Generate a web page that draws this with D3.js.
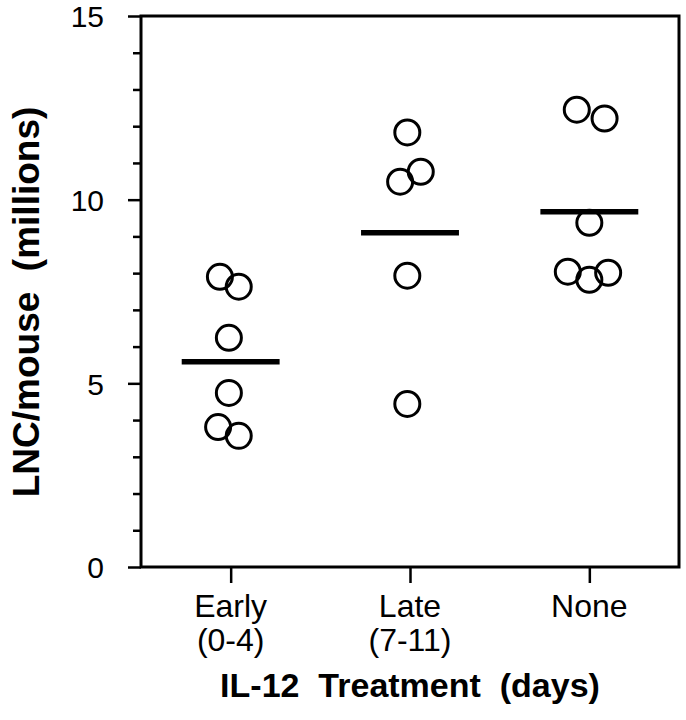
<!DOCTYPE html>
<html>
<head>
<meta charset="utf-8">
<script src="https://cdn.jsdelivr.net/npm/d3@7"></script>
<style>
  body { margin: 0; background: #fff; }
  text { font-family: "Liberation Sans", Arial, Helvetica, sans-serif; fill: #000; }
</style>
</head>
<body>
<div id="chart"></div>
<script>
'use strict';
// groups on the x axis
var categories = ['Early', 'Late', 'None'];
var subLabels = ['(0-4)', '(7-11)', ''];
// individual mice, x is category index + small offset
var earlyX = [0.44, 0.545, 0.49, 0.49, 0.43, 0.545];
var earlyY = [7.90, 7.63, 6.24, 4.74, 3.81, 3.57];
var lateX = [1.485, 1.445, 1.56, 1.485, 1.485];
var lateY = [11.83, 10.49, 10.76, 7.93, 4.44];
var noneX = [2.43, 2.585, 2.5, 2.38, 2.5, 2.605];
var noneY = [12.45, 12.21, 9.37, 8.04, 7.82, 8.01];
// group means (horizontal bars)
var means = [5.59, 9.10, 9.67];
var yTicks = [0, 5, 10, 15];

var width = 686, height = 720;
var plotL = 141, plotR = 679, plotT = 16, plotB = 567;

var svg = d3.select('#chart').append('svg')
    .attr('width', width)
    .attr('height', height);

var x = d3.scaleLinear().domain([0, 3]).range([plotL, plotR]);
var y = d3.scaleLinear().domain([0, 15]).range([plotB, plotT]);

// y axis with major + minor ticks
var yMinor = svg.append('g')
    .attr('transform', 'translate(' + plotL + ',0)')
    .call(d3.axisLeft(y).tickValues(d3.range(0, 16).filter(function (d) { return d % 5 !== 0; }))
        .tickSize(8).tickFormat(''));
var yMajor = svg.append('g')
    .attr('transform', 'translate(' + plotL + ',0)')
    .call(d3.axisLeft(y).tickValues(yTicks).tickSize(13).tickPadding(24));
[yMinor, yMajor].forEach(function (g) {
    g.select('.domain').remove();
    g.selectAll('line').attr('stroke', '#000').attr('stroke-width', 2.5);
});
yMajor.selectAll('text')
    .attr('fill', '#000')
    .style('font-size', '30px')
    .attr('dy', '0.36em');

// x axis ticks
var xAxis = svg.append('g')
    .attr('transform', 'translate(0,' + plotB + ')')
    .call(d3.axisBottom(x).tickValues([0.5, 1.5, 2.5]).tickSize(16).tickFormat(''));
xAxis.select('.domain').remove();
xAxis.selectAll('line').attr('stroke', '#000').attr('stroke-width', 2.5);

// frame
svg.append('rect')
    .attr('x', plotL).attr('y', plotT)
    .attr('width', plotR - plotL).attr('height', plotB - plotT)
    .attr('fill', 'none')
    .attr('stroke', '#000')
    .attr('stroke-width', 3);

// category labels
var labG = svg.append('g');
categories.forEach(function (c, i) {
    labG.append('text')
        .attr('x', x(i + 0.5)).attr('y', 617)
        .attr('text-anchor', 'middle')
        .style('font-size', '32px')
        .text(c);
    if (subLabels[i]) {
        labG.append('text')
            .attr('x', x(i + 0.5)).attr('y', 651)
            .attr('text-anchor', 'middle')
            .style('font-size', '32px')
            .text(subLabels[i]);
    }
});

// axis titles
svg.append('text')
    .attr('x', x(1.5)).attr('y', 697)
    .attr('text-anchor', 'middle')
    .style('font-size', '34px').style('font-weight', 'bold')
    .style('white-space', 'pre')
    .text('IL-12  Treatment  (days)');
svg.append('text')
    .attr('transform', 'translate(39,302) rotate(-90)')
    .attr('text-anchor', 'middle')
    .style('font-size', '37px').style('font-weight', 'bold')
    .style('white-space', 'pre')
    .text('LNC/mouse  (millions)');

// points
var pts = [];
[[earlyX, earlyY], [lateX, lateY], [noneX, noneY]].forEach(function (s) {
    s[0].forEach(function (v, i) { pts.push({ x: v, y: s[1][i] }); });
});
svg.append('g').selectAll('circle')
    .data(pts)
    .enter().append('circle')
    .attr('cx', function (d) { return x(d.x); })
    .attr('cy', function (d) { return y(d.y); })
    .attr('r', 12.5)
    .attr('fill', 'none')
    .attr('stroke', '#000')
    .attr('stroke-width', 3);

// mean bars
svg.append('g').selectAll('line')
    .data(means)
    .enter().append('line')
    .attr('x1', function (d, i) { return x(i + 0.5 - 0.273); })
    .attr('x2', function (d, i) { return x(i + 0.5 + 0.273); })
    .attr('y1', function (d) { return y(d); })
    .attr('y2', function (d) { return y(d); })
    .attr('stroke', '#000')
    .attr('stroke-width', 5.5);
</script>
</body>
</html>
